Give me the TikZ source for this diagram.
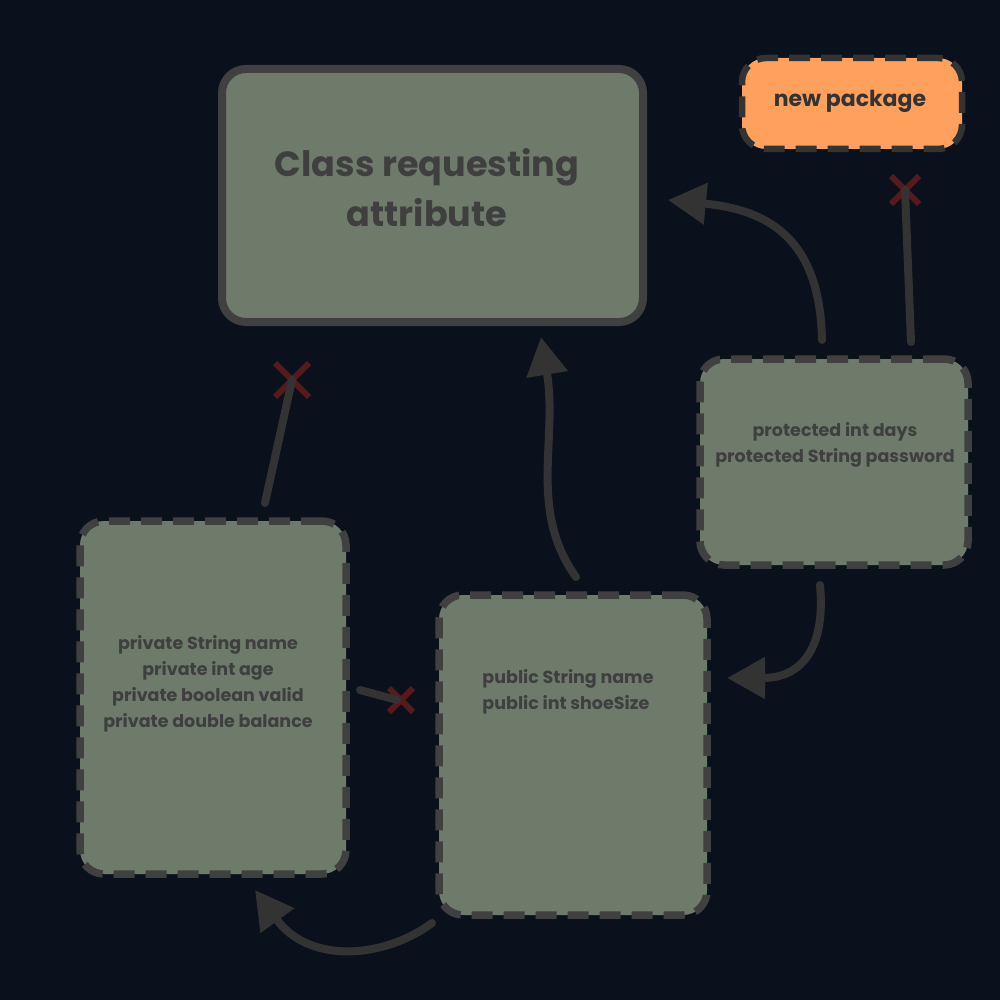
\documentclass[tikz,border=0pt]{standalone}
\usepackage{fontspec}
\setmainfont{Poppins}
\usetikzlibrary{arrows.meta,calc}
\definecolor{bg}{HTML}{0A101C}
\definecolor{boxfill}{HTML}{6E7B6B}
\definecolor{boxline}{HTML}{404040}
\definecolor{pkgfill}{HTML}{FFA05C}
\definecolor{pkgline}{HTML}{333333}
\definecolor{arrcol}{HTML}{333333}
\definecolor{txtcol}{HTML}{3F3F3F}
\definecolor{xcol}{HTML}{571A1C}
\tikzset{
  box/.style={draw=boxline, fill=boxfill, rounded corners=24pt, inner sep=0pt, outer sep=0pt},
  dashbox/.style={box, line width=7.5pt, dash pattern=on 21pt off 11pt},
  small/.style={text=txtcol, font=\fontsize{17.5}{26}\selectfont\bfseries, align=center},
  conn/.style={draw=arrcol, line width=8pt, line cap=round},
  arr/.style={conn, -{Triangle[length=38pt,width=40pt]}},
  xmark/.style={draw=xcol, line width=6pt}
}
\newcommand{\xcross}[2]{\draw[xmark] ($(#1)+(-#2,-#2)$) -- ($(#1)+(#2,#2)$) ($(#1)+(-#2,#2)$) -- ($(#1)+(#2,-#2)$);}
\begin{document}
\begin{tikzpicture}[x=1pt,y=-1pt]
\fill[bg] (0,0) rectangle (1000,1000);
\useasboundingbox (0,0) rectangle (1000,1000);

% boxes
\node[box, line width=8pt, minimum width=421pt, minimum height=253pt] (main) at (432.5,195.5) {};
\node[text=txtcol, font=\fontsize{35}{50}\selectfont\bfseries, align=center] (maintxt) at (427,188) {Class requesting\\attribute};

\node[dashbox, draw=pkgline, fill=pkgfill, line width=6.5pt, minimum width=220pt, minimum height=91pt] (pkg) at (852,103.5) {};
\node[text=pkgline, font=\fontsize{22}{25}\selectfont\bfseries] (pkgtxt) at (850,101) {new package};

\node[dashbox, minimum width=268pt, minimum height=206pt] (prot) at (834,462) {};
\node[small] (prottxt) at (835,445) {protected int days\\protected String password};

\node[dashbox, minimum width=266pt, minimum height=353pt] (priv) at (213,697.5) {};
\node[small] (privtxt) at (208,684) {private String name\\private int age\\private boolean valid\\private double balance};

\node[dashbox, minimum width=268pt, minimum height=320pt] (pub) at (573,755) {};
\node[small, align=left] (pubtxt) at (568,692) {public String name\\public int shoeSize};

% connector end points
\coordinate (a1s) at (822,340);
\coordinate (a1e) at (668,200);
\coordinate (a2s) at (911,342);
\coordinate (a2e) at (905,190);
\coordinate (a3s) at (576,577);
\coordinate (a3e) at (541,337);
\coordinate (a4s) at (820,585);
\coordinate (a4e) at (727,678);
\coordinate (a5s) at (432,923);
\coordinate (a5e) at (255,890);
\coordinate (a6s) at (265,503);
\coordinate (a6e) at (292,380);
\coordinate (a7s) at (360,690);
\coordinate (a7e) at (397,700);

% X marks
\xcross{a2e}{14}
\xcross{a6e}{17}
\xcross{401,700}{12}

% connectors
\draw[arr] (a1s) .. controls (820,240) and (770,210) .. (a1e);
\draw[conn] (a2s) -- (a2e);
\draw[arr] (a3s) .. controls (528,510) and (558,440) .. (a3e);
\draw[arr] (a4s) .. controls (826,650) and (800,678) .. (a4e);
\draw[arr] (a5s) .. controls (385,958) and (310,965) .. (a5e);
\draw[conn] (a6s) -- (a6e);
\draw[conn] (a7s) -- (a7e);
\end{tikzpicture}
\end{document}
